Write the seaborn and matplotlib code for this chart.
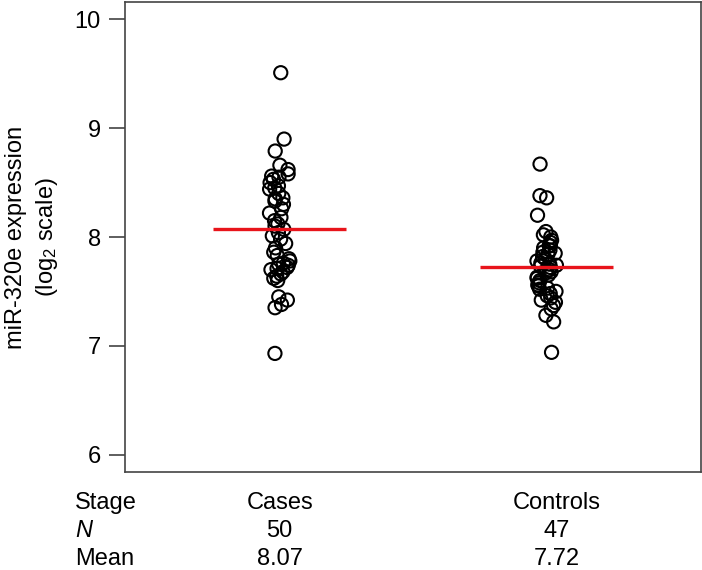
import numpy as np
import pandas as pd
import seaborn as sns
import matplotlib
matplotlib.use('Agg')
import matplotlib.pyplot as plt
import matplotlib.transforms as mtransforms

# values
groups = ['Cases', 'Controls']
cases = [9.51, 8.90, 8.79, 8.66, 8.62, 8.58, 8.56, 8.53, 8.50, 8.47,
         8.44, 8.40, 8.36, 8.33, 8.30, 8.26, 8.22, 8.18, 8.15, 8.12,
         8.10, 8.07, 8.04, 8.01, 7.98, 7.94, 7.90, 7.86, 7.83, 7.80,
         7.78, 7.76, 7.74, 7.72, 7.71, 7.70, 7.68, 7.66, 7.64, 7.62,
         7.60, 8.55, 8.45, 8.35, 7.45, 7.42, 7.38, 7.35, 6.93, 7.75]
controls = [8.67, 8.38, 8.36, 8.20, 8.05, 8.02, 8.00, 7.97, 7.95, 7.92,
            7.90, 7.88, 7.86, 7.84, 7.82, 7.80, 7.78, 7.76, 7.74, 7.73,
            7.72, 7.70, 7.68, 7.67, 7.65, 7.63, 7.62, 7.60, 7.58, 7.56,
            7.55, 7.53, 7.52, 7.50, 7.48, 7.46, 7.44, 7.42, 7.40, 7.37,
            7.34, 7.28, 7.22, 6.94, 7.75, 7.85, 7.92]
counts = ['50', '47']
means = [8.07, 7.72]
mean_labels = ['8.07', '7.72']
yticks = [6, 7, 8, 9, 10]

sns.set_style('ticks')
plt.rcParams['font.family'] = ['Liberation Sans', 'DejaVu Sans']
plt.rcParams['mathtext.default'] = 'regular'
plt.rcParams['text.color'] = 'black'
plt.rcParams['ytick.labelcolor'] = 'black'
FS = 17

df = pd.DataFrame({
    'group': ['Cases'] * len(cases) + ['Controls'] * len(controls),
    'value': cases + controls,
})

fig = plt.figure(figsize=(7.02, 5.70), dpi=100)
ax = fig.add_axes([125 / 702, 98 / 570, 576 / 702, 470 / 570])

np.random.seed(3)
sns.stripplot(data=df, x='group', y='value', order=groups, jitter=0.04,
              marker='o', size=9.5, linewidth=1.5, ax=ax)
for c in ax.collections:
    c.set_facecolor('none')
    c.set_edgecolor('black')

# red mean bars
for i, m in enumerate(means):
    ax.hlines(m, i - 0.25, i + 0.25, color='#e8141b', lw=2.4, zorder=5)

ax.set_xlim(-0.58, 1.58)
ax.set_ylim(5.84, 10.16)
ax.set_yticks(yticks)
ax.set_yticklabels([str(t) for t in yticks], fontsize=FS, color='black')
ax.set_xticks([])
ax.set_xlabel('')
ax.set_ylabel('')
ax.tick_params(axis='y', length=11.5, width=1.1, pad=6, color='#333333')
for s in ax.spines.values():
    s.set_visible(True)
    s.set_color('#444444')
    s.set_linewidth(1.2)

# y label, two lines
fig.text(16 / 702, 0.584, 'miR-320e expression', rotation=90,
         ha='center', va='center', fontsize=FS)
fig.text(47 / 702, 0.584, '(log$_2$ scale)', rotation=90,
         ha='center', va='center', fontsize=FS)

# table below the plot
trans = mtransforms.blended_transform_factory(ax.transData, fig.transFigure)
rows_y = [1 - 509 / 570, 1 - 537 / 570, 1 - 565 / 570]
fig.text(75 / 702, rows_y[0], 'Stage', fontsize=FS, va='baseline')
fig.text(75 / 702, rows_y[1], 'N', fontsize=FS, va='baseline', style='italic')
fig.text(75 / 702, rows_y[2], 'Mean', fontsize=FS, va='baseline')
xpos = [0, 1.04]
for i, g in enumerate(groups):
    ax.text(xpos[i], rows_y[0], g, transform=trans, ha='center', va='baseline', fontsize=FS)
    ax.text(xpos[i], rows_y[1], counts[i], transform=trans, ha='center', va='baseline', fontsize=FS)
    ax.text(xpos[i], rows_y[2], mean_labels[i], transform=trans, ha='center', va='baseline', fontsize=FS)

plt.savefig('out.png', dpi=100)
